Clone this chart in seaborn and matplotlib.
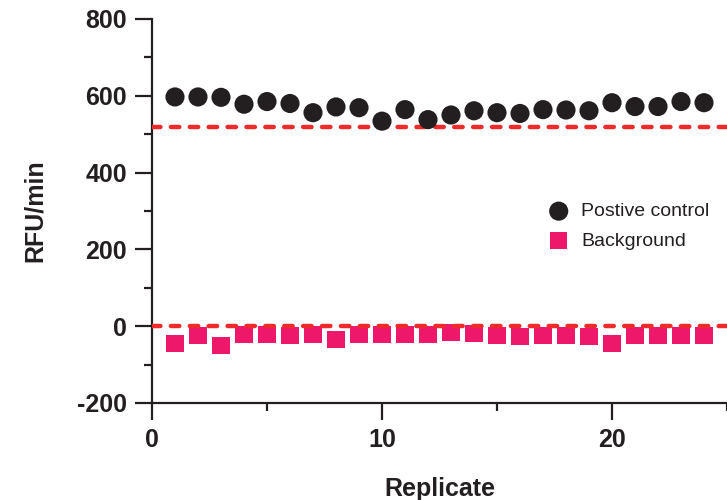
import matplotlib
matplotlib.use("Agg")
import matplotlib.pyplot as plt
import seaborn as sns
import pandas as pd
from matplotlib.ticker import MultipleLocator

replicates = list(range(1, 25))
positive_control = [597, 597, 596, 578, 585, 580, 556, 571, 569, 534, 564, 538,
                    550, 561, 556, 554, 564, 563, 561, 582, 572, 572, 585, 582]
background = [-46, -25, -49, -22, -22, -24, -22, -34, -22, -21, -21, -22,
              -16, -18, -25, -26, -24, -24, -26, -46, -23, -24, -23, -24]
threshold_levels = [520, 0]

sns.set_theme(style="ticks")
plt.rcParams['font.family'] = ['Liberation Sans', 'DejaVu Sans']
plt.rcParams['axes.unicode_minus'] = False

df_pos = pd.DataFrame({"Replicate": replicates, "RFU/min": positive_control})
df_bg = pd.DataFrame({"Replicate": replicates, "RFU/min": background})

fig = plt.figure(figsize=(7.27, 5.0), dpi=100)
ax = fig.add_axes([152/727, 97/500, 575/727, 384/500])

sns.scatterplot(data=df_bg, x="Replicate", y="RFU/min", marker="s", s=150,
                color="#ED1869", edgecolor="none", linewidth=0, ax=ax,
                label="Background", zorder=2)
for lvl in threshold_levels:
    ax.axhline(lvl, color="#EE2A2A", lw=3.2, linestyle=(0, (1.9, 2.35)),
               dash_capstyle="round", zorder=3)
sns.scatterplot(data=df_pos, x="Replicate", y="RFU/min", marker="o", s=190,
                color="#231F20", edgecolor="none", linewidth=0, ax=ax,
                label="Postive control", zorder=4)

ax.set_xlim(0, 25)
ax.set_ylim(-200, 800)
ax.xaxis.set_major_locator(MultipleLocator(10))
ax.xaxis.set_minor_locator(MultipleLocator(5))
ax.yaxis.set_major_locator(MultipleLocator(200))
ax.yaxis.set_minor_locator(MultipleLocator(100))
ax.tick_params(which="major", length=12, width=1.6, color="#231F20",
               labelsize=18, labelcolor="#231F20", pad=6)
ax.tick_params(which="minor", length=6, width=1.6, color="#231F20")
for lab in ax.get_xticklabels() + ax.get_yticklabels():
    lab.set_fontweight("bold")

for side in ["top", "right"]:
    ax.spines[side].set_visible(False)
for side in ["left", "bottom"]:
    ax.spines[side].set_linewidth(1.6)
    ax.spines[side].set_color("#231F20")

ax.set_xlabel("Replicate", fontsize=18, fontweight="bold", color="#231F20", labelpad=18)
ax.set_ylabel("RFU/min", fontsize=18, fontweight="bold", color="#231F20", labelpad=22)

handles, labels = ax.get_legend_handles_labels()
order = [labels.index("Postive control"), labels.index("Background")]
ax.legend([handles[i] for i in order], [labels[i] for i in order],
          loc="upper left", bbox_to_anchor=(0.66, 0.542), frameon=False,
          fontsize=14, handletextpad=0.15, labelspacing=0.6, markerscale=1.0,
          borderaxespad=0, labelcolor="#231F20")

fig.savefig("out.png", dpi=100)
